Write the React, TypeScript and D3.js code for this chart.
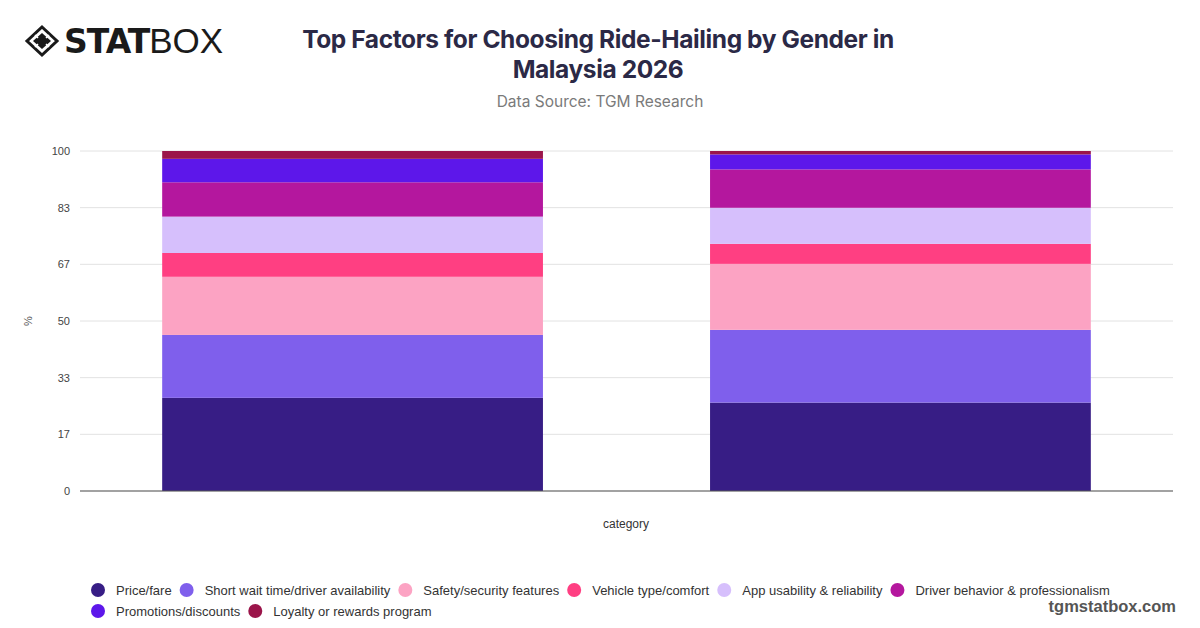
import React, { useEffect, useRef } from "react";
import * as d3 from "d3";

const categories = ["Male", "Female"];
const seriesNames = [
  "Price/fare",
  "Short wait time/driver availability",
  "Safety/security features",
  "Vehicle type/comfort",
  "App usability & reliability",
  "Driver behavior & professionalism",
  "Promotions/discounts",
  "Loyalty or rewards program",
];
const seriesColors = ["#371d85", "#7f5fec", "#fca3c3", "#ff3f82", "#d6bffc", "#b4179e", "#5d17ea", "#9b154a"];

const priceFare = [27.4, 26.0];
const shortWait = [18.5, 21.4];
const safety = [17.1, 19.4];
const vehicle = [7.0, 5.9];
const appUsability = [10.7, 10.6];
const driverBehavior = [10.1, 11.3];
const promotions = [6.9, 4.4];
const loyalty = [2.3, 1.0];

const yTicks = [0, 100 / 6, 200 / 6, 50, 400 / 6, 500 / 6, 100];

const titleLines = ["Top Factors for Choosing Ride-Hailing by Gender in", "Malaysia 2026"];
const subtitle = "Data Source: TGM Research";

export default function App() {
  const ref = useRef<SVGSVGElement>(null);

  useEffect(() => {
    const svg = d3.select(ref.current);
    svg.selectAll("*").remove();

    const W = 1200, H = 628;
    const m = { left: 80, right: 27, top: 151, bottom: 137 };
    const allValues = [priceFare, shortWait, safety, vehicle, appUsability, driverBehavior, promotions, loyalty];
    const rows = categories.map((c, i) => {
      const r: any = { category: c };
      seriesNames.forEach((s, k) => (r[s] = allValues[k][i]));
      return r;
    });
    const stacked = d3.stack().keys(seriesNames)(rows);

    const x = d3.scaleBand().domain(categories).range([m.left, W - m.right]).paddingInner(0.305).paddingOuter(0.15);
    const y = d3.scaleLinear().domain([0, 100]).range([H - m.bottom, m.top]);

    svg.append("rect").attr("width", W).attr("height", H).attr("fill", "#ffffff");

    // grid
    const g = svg.append("g");
    g.selectAll("line.grid").data(yTicks).join("line")
      .attr("x1", m.left).attr("x2", W - m.right)
      .attr("y1", (d) => y(d)).attr("y2", (d) => y(d))
      .attr("stroke", "#e2e2e2").attr("stroke-width", 1);

    const yAxis = d3.axisLeft(y).tickValues(yTicks).tickFormat(d3.format(".0f")).tickSize(0).tickPadding(10);
    const ya = svg.append("g").attr("transform", `translate(${m.left},0)`).call(yAxis);
    ya.select(".domain").remove();
    ya.selectAll("text").attr("font-family", "'Liberation Sans', Arial, sans-serif").attr("font-size", 11).attr("fill", "#444");

    // bars
    svg.append("g").selectAll("g").data(stacked).join("g")
      .attr("fill", (_d, i) => seriesColors[i])
      .selectAll("rect").data((d) => d).join("rect")
      .attr("x", (d: any) => x(d.data.category)!)
      .attr("width", x.bandwidth())
      .attr("y", (d) => y(d[1]))
      .attr("height", (d) => y(d[0]) - y(d[1]));

    // baseline
    svg.append("line").attr("x1", m.left).attr("x2", W - m.right).attr("y1", y(0)).attr("y2", y(0))
      .attr("stroke", "#555").attr("stroke-width", 1.2);

    // axis titles
    svg.append("text").attr("x", 626).attr("y", 528).attr("text-anchor", "middle")
      .attr("font-family", "'Liberation Sans', Arial, sans-serif").attr("font-size", 12).attr("fill", "#333").text("category");
    svg.append("text").attr("transform", `translate(32,${y(50)}) rotate(-90)`).attr("text-anchor", "middle")
      .attr("font-family", "'Liberation Sans', Arial, sans-serif").attr("font-size", 11).attr("fill", "#555").text("%");

    // title
    titleLines.forEach((t, i) => {
      svg.append("text").attr("x", 598).attr("y", 48 + i * 30).attr("text-anchor", "middle")
        .attr("font-family", "Inter, 'Open Sans', sans-serif").attr("font-weight", 700).attr("font-size", 24.5)
        .attr("letter-spacing", -0.4).attr("fill", "#2b2946").text(t);
    });
    svg.append("text").attr("x", 600).attr("y", 107).attr("text-anchor", "middle")
      .attr("font-family", "Inter, 'Open Sans', sans-serif").attr("font-size", 15.5).attr("fill", "#7a7a7a").text(subtitle);

    // logo
    const logo = svg.append("g").attr("transform", "translate(26,26)");
    logo.append("path").attr("d", "M16,1 L31,15 L16,29 L1,15 Z").attr("fill", "none").attr("stroke", "#1a1a1a").attr("stroke-width", 3);
    logo.append("path").attr("d", "M16,7 L25,15 L16,23 L7,15 Z").attr("fill", "#1a1a1a");
    logo.append("path").attr("d", "M9,9 L12,12 M23,9 L20,12 M9,21 L12,18 M23,21 L20,18").attr("stroke", "#fff").attr("stroke-width", 1.5);
    const lt = logo.append("text").attr("x", 38).attr("y", 27).attr("font-family", "'DejaVu Sans', sans-serif").attr("font-size", 33).attr("fill", "#1a1a1a");
    lt.append("tspan").attr("font-weight", 900).attr("letter-spacing", -1).text("STAT");
    lt.append("tspan").attr("font-weight", 300).attr("font-family", "'Liberation Sans', Arial, sans-serif").attr("font-size", 35).text("BOX");

    // legend
    const leg = svg.append("g");
    let lx = 98, ly = 590;
    const rowStart = 98, rowEnd = 1130;
    seriesNames.forEach((s, i) => {
      const item = leg.append("g");
      item.append("circle").attr("r", 7).attr("fill", seriesColors[i]);
      const tx = item.append("text").attr("x", 18).attr("y", 4.5)
        .attr("font-family", "'Liberation Sans', Arial, sans-serif").attr("font-size", 13).attr("fill", "#333").text(s);
      const w = (tx.node() as SVGTextElement).getComputedTextLength();
      const itemW = 18 + w + 15;
      if (lx + itemW - 15 > rowEnd) { lx = rowStart; ly += 21; }
      item.attr("transform", `translate(${lx},${ly})`);
      lx += itemW;
    });

    svg.append("text").attr("x", 1176).attr("y", 612).attr("text-anchor", "end")
      .attr("font-family", "'Liberation Sans', Arial, sans-serif").attr("font-weight", 700).attr("font-size", 16.5)
      .attr("fill", "#555").text("tgmstatbox.com");
  }, []);

  return (
    <svg ref={ref} width={1200} height={628} style={{ position: "absolute", left: 0, top: 0, display: "block" }} />
  );
}
